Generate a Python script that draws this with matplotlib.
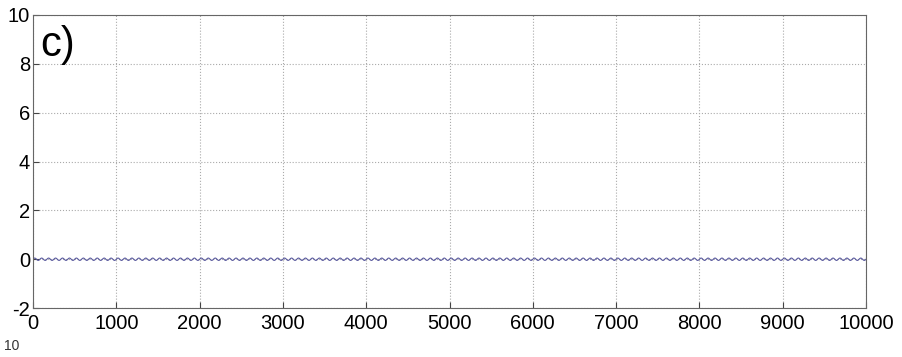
import numpy as np
import matplotlib.pyplot as plt

plt.rcParams['font.family'] = ['Liberation Sans', 'DejaVu Sans']
plt.rcParams['axes.unicode_minus'] = False

# one cycle of the small oscillation, repeated over the record
cycle = [0.0, 0.035, 0.05, 0.035, 0.0, -0.035, -0.05, -0.035]
n_cycles = 120
x_max = 10000

xticks = [0, 1000, 2000, 3000, 4000, 5000, 6000, 7000, 8000, 9000, 10000]
yticks = [-2, 0, 2, 4, 6, 8, 10]

y = np.tile(cycle, n_cycles)
y = np.append(y, cycle[0])
x = np.linspace(0, x_max, len(y))

fig = plt.figure(figsize=(9.02, 3.57), dpi=100)
ax = fig.add_axes([0.0366, 0.137, 0.9235, 0.821])

ax.plot(x, y, color='#5a5a9e', linewidth=0.8)

ax.set_xlim(0, x_max)
ax.set_ylim(-2, 10)
ax.set_xticks(xticks)
ax.set_yticks(yticks)
ax.grid(True, linestyle=':', color='#aaaaaa', linewidth=0.8)
ax.tick_params(direction='in', labelsize=14.5, length=4, color='#444444', pad=2)
ax.tick_params(axis='x', pad=4)
for s in ax.spines.values():
    s.set_color('#666666')
    s.set_linewidth(0.8)

ax.text(0.009, 0.965, 'c)', transform=ax.transAxes, fontsize=30, va='top', ha='left')
# partly hidden exponent label at the lower left
fig.text(0.004, 0.012, '10', fontsize=10, color='#333333', va='bottom')

fig.savefig('out.png', dpi=100)
